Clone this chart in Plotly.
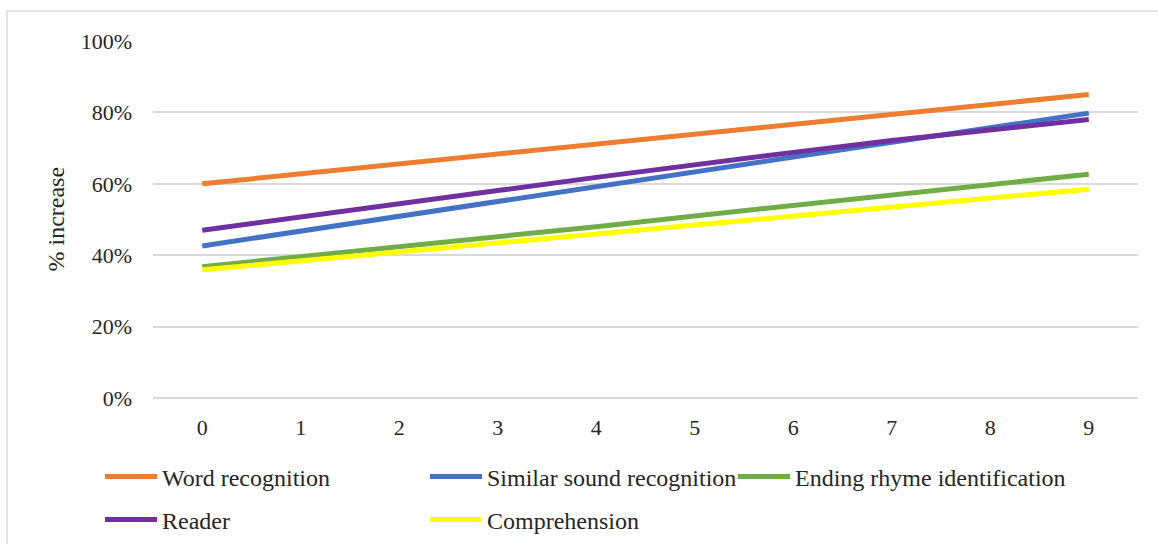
import plotly.graph_objects as go

x_vals = [0, 1, 2, 3, 4, 5, 6, 7, 8, 9]
word_recognition = [0.600, 0.628, 0.656, 0.684, 0.712, 0.739, 0.767, 0.795, 0.822, 0.850]
similar_sound = [0.426, 0.468, 0.508, 0.550, 0.592, 0.633, 0.675, 0.716, 0.757, 0.798]
ending_rhyme = [0.368, 0.396, 0.422, 0.450, 0.480, 0.510, 0.540, 0.569, 0.598, 0.627]
reader = [0.470, 0.506, 0.543, 0.581, 0.618, 0.654, 0.688, 0.721, 0.752, 0.780]
comprehension = [0.359, 0.384, 0.410, 0.435, 0.460, 0.485, 0.510, 0.535, 0.560, 0.585]

names = ["Word recognition", "Similar sound recognition", "Ending rhyme identification",
         "Reader", "Comprehension"]
series = [word_recognition, similar_sound, ending_rhyme, reader, comprehension]
colors = ["#ED7D31", "#4472C4", "#70AD47", "#7030A0", "#FFFF00"]
legend_ids = ["legend", "legend2", "legend3", "legend4", "legend5"]

FONT = "Liberation Serif, Times New Roman, serif"
TXT = "#262626"
fig = go.Figure()
for n, s, c, lg in zip(names, series, colors, legend_ids):
    fig.add_trace(go.Scatter(x=x_vals, y=s, name=n, mode="lines",
                             line=dict(color=c, width=5), legend=lg))

W, H = 1158, 544
ml, mr, mt, mb = 153, 20, 41, 146
pw, ph = W - ml - mr, H - mt - mb


def px_x(p):
    return (p - ml) / pw


def px_y(p):
    return (H - mb - p) / ph


def leg(xp, yp):
    return dict(orientation="v", xanchor="left", yanchor="middle",
                x=px_x(xp), y=px_y(yp),
                font=dict(family=FONT, size=24, color=TXT),
                itemwidth=52, bgcolor="rgba(0,0,0,0)")


fig.update_layout(
    width=W, height=H,
    margin=dict(l=ml, r=mr, t=mt, b=mb, autoexpand=False),
    paper_bgcolor="white", plot_bgcolor="white",
    font=dict(family=FONT, size=22, color=TXT),
    showlegend=True,
    legend=leg(100, 477),
    legend2=leg(425, 477),
    legend3=leg(733, 477),
    legend4=leg(100, 520),
    legend5=leg(425, 520),
    xaxis=dict(range=[-0.5, 9.5], tickmode="array", tickvals=x_vals,
               ticktext=[str(v) for v in x_vals], showgrid=False, zeroline=False,
               showline=False, ticks="", ticklabelstandoff=14,
               tickfont=dict(family=FONT, size=22, color=TXT)),
    yaxis=dict(range=[0, 1.0], dtick=0.2, tickformat=".0%", showgrid=True,
               gridcolor="#D9D9D9", gridwidth=1.5, zeroline=True, zerolinecolor="#D9D9D9",
               zerolinewidth=1.5, showline=False, ticks="", ticklabelstandoff=20,
               tickfont=dict(family=FONT, size=22, color=TXT)),
    annotations=[dict(text="% increase", x=px_x(40), y=0.5, xref="paper", yref="paper",
                      textangle=-90, showarrow=False,
                      font=dict(family=FONT, size=24, color=TXT))],
    shapes=[
        dict(type="line", xref="paper", yref="paper", x0=px_x(7), x1=px_x(1170),
             y0=px_y(11), y1=px_y(11), line=dict(color="#D9D9D9", width=1.5)),
        dict(type="line", xref="paper", yref="paper", x0=px_x(7), x1=px_x(7),
             y0=px_y(11), y1=px_y(560), line=dict(color="#D9D9D9", width=1.5)),
    ],
)

fig.write_html("out.html", config={"displayModeBar": False},
               post_script="document.body.style.margin='0px';")
